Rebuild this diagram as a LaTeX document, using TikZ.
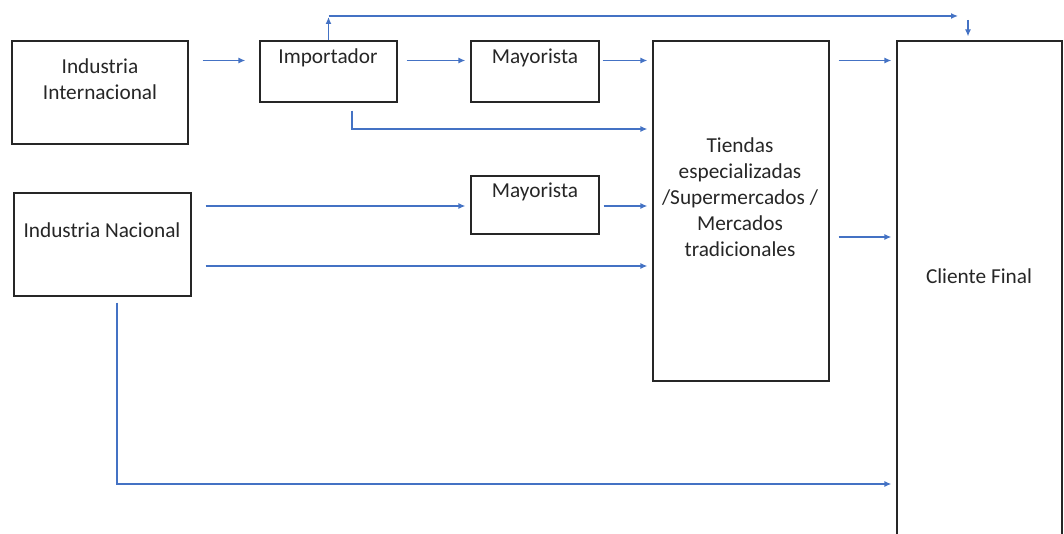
\documentclass[tikz,border=0pt]{standalone}
\usepackage{fontspec}
\setmainfont{Carlito}
\usetikzlibrary{arrows.meta,fit,positioning}
\definecolor{azul}{HTML}{4472C4}
\tikzset{
  caja/.style={draw=black!85, line width=1.2pt, inner sep=0pt},
  texto/.style={font=\fontsize{21.3}{26}\selectfont, text=black!85, align=center, inner sep=0pt},
  flecha/.style={draw=azul, line width=1.3pt, -{Latex[length=7pt,width=6pt]}},
}

\begin{document}
\begin{tikzpicture}[x=1pt,y=-1pt]
	\clip (0,0) rectangle (1064,534);
	% cajas
	\node[caja, fit={(12,41) (188,144)}] (intl) {};
	\node[caja, fit={(260,41) (397,102)}] (imp) {};
	\node[caja, fit={(471,41) (599,102)}] (may1) {};
	\node[caja, fit={(653,41) (829,381)}] (tiendas) {};
	\node[caja, fit={(897,41) (1062,560)}] (cliente) {};
	\node[caja, fit={(14,193) (191,296)}] (nac) {};
	\node[caja, fit={(471,176) (599,234)}] (may2) {};
	% textos
	\node[texto] (tIntl) at (100,79) {Industria\\Internacional};
	\node[texto] (tImp) at (328,58) {Importador};
	\node[texto] (tMay1) at (535,58) {Mayorista};
	\node[texto] (tTiendas) at (740,197) {Tiendas\\especializadas\\/Supermercados /\\Mercados\\tradicionales};
	\node[texto] (tCliente) at (979,276) {Cliente Final};
	\node[texto] (tNac) at (102,230) {Industria Nacional};
	\node[texto] (tMay2) at (535,192) {Mayorista};
	% filas de las flechas
	\coordinate (filaA) at (0,16);
	\coordinate (fila1) at (0,60.5);
	\coordinate (filaB) at (0,129);
	\coordinate (filaC) at (0,206);
	\coordinate (filaD) at (0,237);
	\coordinate (filaE) at (0,266);
	\coordinate (filaF) at (0,484);
	\coordinate (finA) at (958,16);
	\coordinate (bajada) at (968,20);
	% flechas
	\draw[flecha, shorten <=14pt, shorten >=14pt] (intl.east |- fila1) -- (imp.west |- fila1);
	\draw[flecha, shorten <=9pt, shorten >=5pt] (imp.east |- fila1) -- (may1.west |- fila1);
	\draw[flecha, shorten <=3pt, shorten >=5pt] (may1.east |- fila1) -- (tiendas.west |- fila1);
	\draw[flecha, shorten <=9pt, shorten >=5pt] (tiendas.east |- fila1) -- (cliente.west |- fila1);
	\draw[flecha, shorten >=1pt] (imp.north) -- (imp.north |- filaA);
	\draw[flecha] (imp.north |- filaA) -- (finA);
	\draw[flecha, shorten >=4pt] (bajada) -- (bajada |- cliente.north);
	\draw[flecha, shorten >=5pt] ([xshift=23.5pt,yshift=-8pt]imp.south) |- (tiendas.west |- filaB);
	\draw[flecha, shorten <=14pt, shorten >=5pt] (nac.east |- filaC) -- (may2.west |- filaC);
	\draw[flecha, shorten <=4pt, shorten >=5pt] (may2.east |- filaC) -- (tiendas.west |- filaC);
	\draw[flecha, shorten <=14pt, shorten >=5pt] (nac.east |- filaE) -- (tiendas.west |- filaE);
	\draw[flecha, shorten <=9pt, shorten >=5pt] (tiendas.east |- filaD) -- (cliente.west |- filaD);
	\draw[flecha, shorten >=5pt] ([xshift=14.5pt,yshift=-6pt]nac.south) |- (cliente.west |- filaF);
\end{tikzpicture}
\end{document}
